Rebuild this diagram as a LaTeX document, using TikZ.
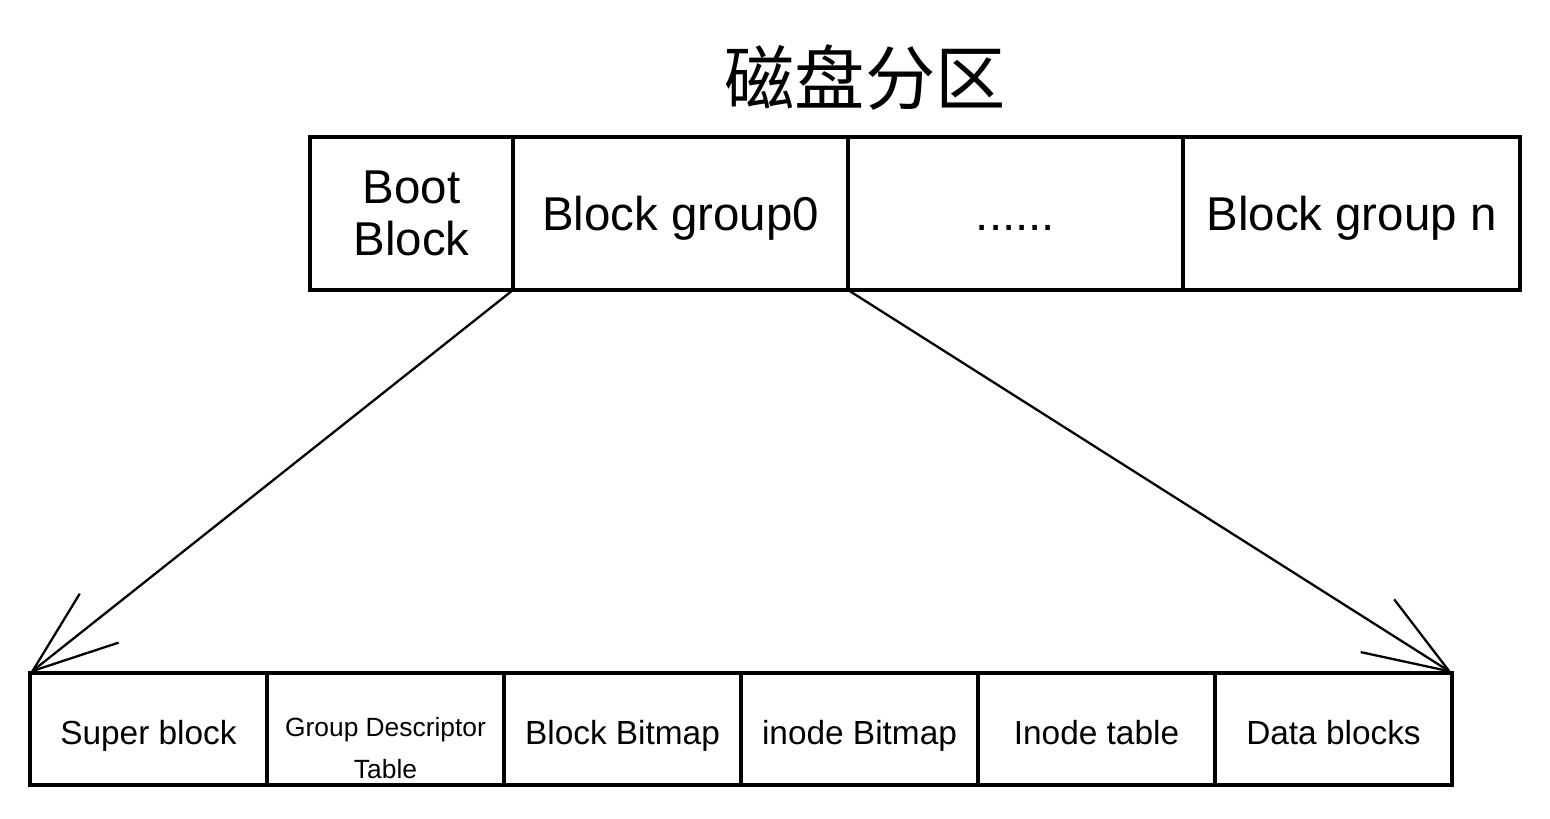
\documentclass[tikz,border=0pt]{standalone}
\usepackage{fontspec}
\setmainfont{Liberation Sans}
\newfontfamily\cjk{Noto Sans CJK SC}
\usetikzlibrary{positioning,arrows.meta}

\begin{document}
\begin{tikzpicture}[auto, outer sep=0pt, line width=1.9pt]
  \tikzstyle{part} = [rectangle, draw, minimum height=3.06cm, inner sep=0pt,
    text centered, text height=19.3pt, text depth=0pt, font=\fontsize{27}{30}\selectfont]
  \tikzstyle{field} = [rectangle, draw, minimum width=4.74cm, minimum height=2.24cm,
    inner sep=0pt, text centered, text height=18pt, text depth=0pt,
    font=\fontsize{19}{22}\selectfont]
  \tikzstyle{line} = [draw, line width=1.3pt, -{Straight Barb[length=1.7cm, width=1.25cm]}]

  \useasboundingbox (0,0) rectangle (31,-16.36);

  % Place nodes
  \node [font=\cjk\fontsize{40}{44}\selectfont] (title) at (17.3,-1.56) {磁盘分区};
  \node [part, minimum width=4.06cm, anchor=north west, align=center,
    text height=, text depth=] (boot) at (6.2,-2.74) {Boot\\Block};
  \node [part, minimum width=6.7cm, right=0pt of boot] (group0) {Block group0};
  \node [part, minimum width=6.7cm, right=0pt of group0] (dots) {......};
  \node [part, minimum width=6.74cm, right=0pt of dots] (groupn) {Block group n};

  \node [field, anchor=north west] (super) at (0.6,-13.46) {Super block};
  \node [field, right=0pt of super, text height=0pt, font=\fontsize{15}{24}\selectfont]
    (gdt) {\raisebox{-0.53cm}[0pt][0pt]{\begin{tabular}{@{}c@{}}Group Descriptor\\Table\end{tabular}}};
  \node [field, right=0pt of gdt] (bbitmap) {Block Bitmap};
  \node [field, right=0pt of bbitmap] (ibitmap) {inode Bitmap};
  \node [field, right=0pt of ibitmap] (itable) {Inode table};
  \node [field, right=0pt of itable] (data) {Data blocks};

  % Draw edges
  \path [line] (group0.south west) -- (super.north west);
  \path [line] (group0.south east) -- (data.north east);

\end{tikzpicture}
\end{document}
